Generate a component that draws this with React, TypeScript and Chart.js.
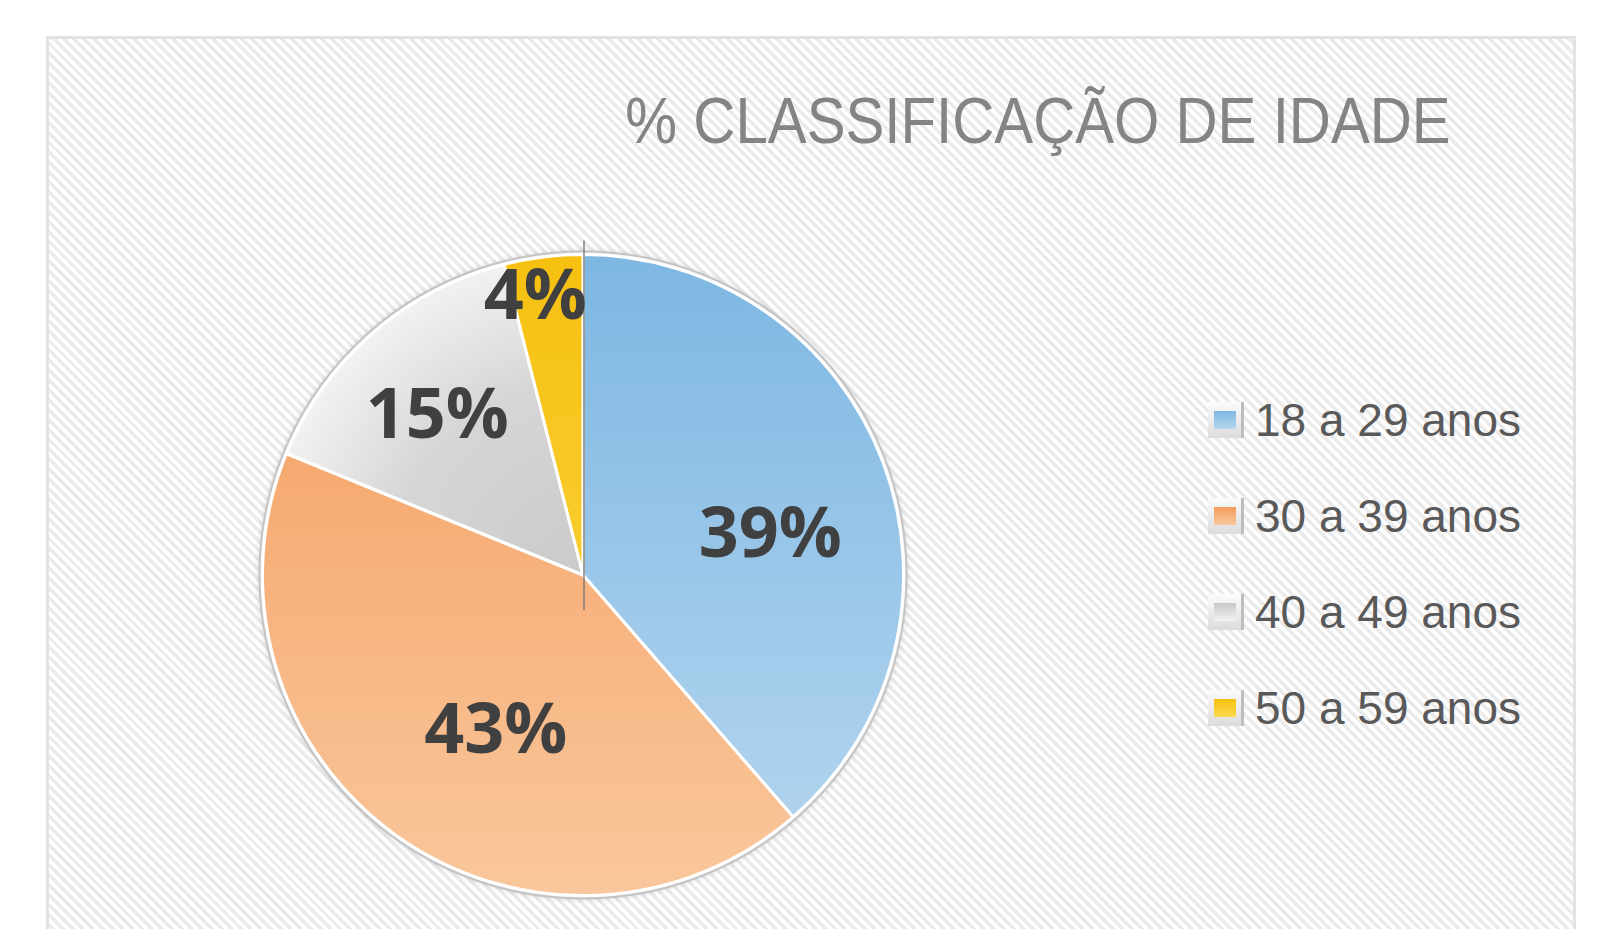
import React, { useEffect, useRef } from "react";
import { Chart, registerables } from "chart.js";

Chart.register(...registerables);

const TITLE = "% CLASSIFICAÇÃO DE IDADE";
const categories = ["18 a 29 anos", "30 a 39 anos", "40 a 49 anos", "50 a 59 anos"];
const values = [39, 43, 15, 4];

const sliceTop = ["#7db7e2", "#f59c5d", "#c8c8c8", "#f6c010"];
const sliceBottom = ["#b7d7f0", "#f9c79c", "#f2f2f2", "#fbd84e"];

// label placement relative to each slice (fraction of radius, angular shift in degrees)
const labelRadius = [0.6, 0.55, 0.68, 0.89];
const labelAngleShift = [7.5, -6, -1, -2.5];

const ringPlugin = {
  id: "pieRing",
  beforeDatasetsDraw(chart: any) {
    const meta = chart.getDatasetMeta(0);
    if (!meta.data.length) return;
    const p = meta.data[0].getProps(["x", "y", "outerRadius"], true);
    const ctx = chart.ctx;
    ctx.save();
    ctx.beginPath();
    ctx.arc(p.x, p.y, p.outerRadius + 3, 0, Math.PI * 2);
    ctx.shadowColor = "rgba(0,0,0,0.18)";
    ctx.shadowBlur = 6;
    ctx.fillStyle = "#f4f4f4";
    ctx.fill();
    ctx.shadowColor = "transparent";
    ctx.lineWidth = 2;
    ctx.strokeStyle = "#c4c4c4";
    ctx.stroke();
    ctx.restore();
  },
};

const labelPlugin = {
  id: "sliceLabels",
  afterDatasetsDraw(chart: any) {
    const meta = chart.getDatasetMeta(0);
    const data: number[] = chart.data.datasets[0].data;
    const total = data.reduce((a, b) => a + b, 0);
    const ctx = chart.ctx;
    if (meta.data.length) {
      const p0 = meta.data[0].getProps(["x", "y", "startAngle", "outerRadius"], true);
      ctx.save();
      ctx.strokeStyle = "rgba(120,120,120,0.7)";
      ctx.lineWidth = 2;
      ctx.beginPath();
      ctx.moveTo(p0.x + 1, p0.y + 35);
      ctx.lineTo(
        p0.x + 1 + (p0.outerRadius + 14) * Math.cos(p0.startAngle),
        p0.y + (p0.outerRadius + 14) * Math.sin(p0.startAngle)
      );
      ctx.stroke();
      ctx.restore();
    }
    meta.data.forEach((arc: any, i: number) => {
      const p = arc.getProps(["x", "y", "startAngle", "endAngle", "outerRadius"], true);
      const a = (p.startAngle + p.endAngle) / 2 + (labelAngleShift[i] * Math.PI) / 180;
      const r = p.outerRadius * labelRadius[i];
      const size = 70;
      ctx.save();
      ctx.font = `bold ${size}px "Open Sans", "Liberation Sans", sans-serif`;
      ctx.fillStyle = "#404040";
      ctx.textAlign = "center";
      ctx.textBaseline = "alphabetic";
      ctx.fillText(
        `${Math.round((data[i] / total) * 100)}%`,
        p.x + r * Math.cos(a),
        p.y + r * Math.sin(a) + size * 0.357
      );
      ctx.restore();
    });
  },
};

function sliceFill(c: any) {
  const i = c.dataIndex;
  const chart = c.chart;
  const area = chart.chartArea;
  if (!area) return sliceTop[i];
  const cx = (area.left + area.right) / 2;
  const cy = (area.top + area.bottom) / 2;
  const R = Math.min(area.width, area.height) / 2;
  if (i === 2) {
    const g = chart.ctx.createRadialGradient(cx, cy, 0, cx, cy, R);
    g.addColorStop(0, "#cacaca");
    g.addColorStop(0.6, "#d6d6d6");
    g.addColorStop(1, sliceBottom[i]);
    return g;
  }
  const g = chart.ctx.createLinearGradient(0, cy - R, 0, cy + R);
  g.addColorStop(0, sliceTop[i]);
  g.addColorStop(1, sliceBottom[i]);
  return g;
}

function PieChart() {
  const ref = useRef<HTMLCanvasElement | null>(null);
  useEffect(() => {
    if (!ref.current) return;
    const chart = new Chart(ref.current, {
      type: "pie",
      data: {
        labels: categories,
        datasets: [
          {
            data: values,
            backgroundColor: sliceFill as any,
            borderColor: "#ffffff",
            borderWidth: 3,
          },
        ],
      },
      options: {
        animation: false,
        responsive: true,
        maintainAspectRatio: false,
        layout: { padding: 28 },
        plugins: {
          legend: { display: false },
          title: { display: false },
          tooltip: { enabled: false },
        },
      },
      plugins: [ringPlugin, labelPlugin],
    });
    return () => chart.destroy();
  }, []);
  return (
    <div style={{ position: "absolute", left: 187, top: 189, width: 700, height: 700 }}>
      <canvas ref={ref} style={{ display: "block" }} />
    </div>
  );
}

export default function App() {
  return (
    <div
      style={{
        position: "absolute",
        left: 46,
        top: 36,
        width: 1530,
        height: 893,
        overflow: "hidden",
        background:
          "repeating-linear-gradient(45deg, #ffffff 0px, #ffffff 3.5px, #ebebeb 3.5px, #ebebeb 7px)",
        boxShadow: "inset 3px 3px 0 0 #e3e3e3, inset -3px 0 0 0 #e3e3e3",
        fontFamily: '"Liberation Sans", Arial, sans-serif',
      }}
    >
      <div
        style={{
          position: "absolute",
          left: 992,
          top: 53,
          whiteSpace: "nowrap",
          fontSize: 64,
          lineHeight: "64px",
          color: "#848484",
          transform: "translateX(-50%) scaleX(0.91)",
        }}
      >
        {TITLE}
      </div>
      <PieChart />
      <div style={{ position: "absolute", left: 1162, top: 336 }}>
        {categories.map((c, i) => (
          <div key={c} style={{ display: "flex", alignItems: "center", height: 96 }}>
            <span
              style={{
                width: 36,
                height: 36,
                flex: "0 0 36px",
                boxSizing: "border-box",
                background: "linear-gradient(#fbfbfb, #dcdcdc)",
                borderRight: "3px solid #bdbdbd",
                display: "flex",
                alignItems: "center",
                justifyContent: "center",
                marginRight: 11,
              }}
            >
              <span
                style={{
                  display: "block",
                  width: 22,
                  height: 18,
                  background: `linear-gradient(${sliceTop[i]}, ${sliceBottom[i]})`,
                }}
              />
            </span>
            <span style={{ fontSize: 46, lineHeight: "46px", color: "#595959", whiteSpace: "nowrap" }}>{c}</span>
          </div>
        ))}
      </div>
    </div>
  );
}
